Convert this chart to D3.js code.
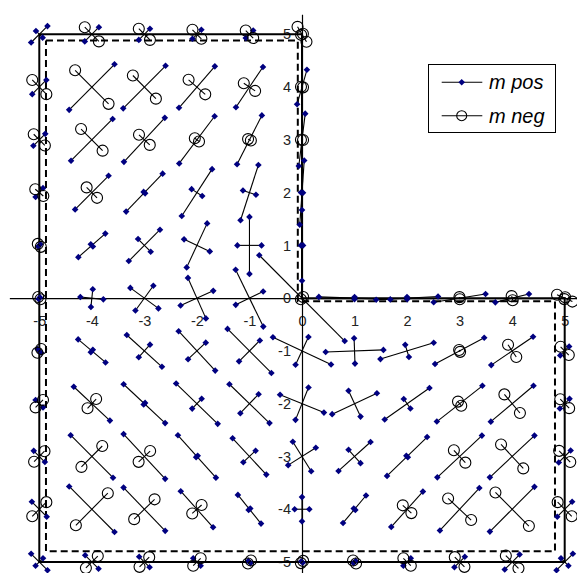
<!DOCTYPE html>
<html><head><meta charset="utf-8">
<script src="https://cdn.jsdelivr.net/npm/d3@7"></script>
<style>body{margin:0;background:#fff} svg{display:block}</style>
</head><body>
<svg id="c" width="577" height="573"></svg>
<script>
// grid points (x, y), principal direction (deg), half-length of the two perpendicular moments (sign: + = m pos, - = m neg)
const ptX = [
 -5,-4,-3,-2,-1,0,
 -5,-4,-3,-2,-1,0,
 -5,-4,-3,-2,-1,0,
 -5,-4,-3,-2,-1,0,
 -5,-4,-3,-2,-1,0,
 -5,-4,-3,-2,-1,0,1,2,3,4,5,
 -5,-4,-3,-2,-1,0,1,2,3,4,5,
 -5,-4,-3,-2,-1,0,1,2,3,4,5,
 -5,-4,-3,-2,-1,0,1,2,3,4,5,
 -5,-4,-3,-2,-1,0,1,2,3,4,5,
 -5,-4,-3,-2,-1,0,1,2,3,4,5];
const ptY = [
 5,5,5,5,5,5,
 4,4,4,4,4,4,
 3,3,3,3,3,3,
 2,2,2,2,2,2,
 1,1,1,1,1,1,
 0,0,0,0,0,0,0,0,0,0,0,
 -1,-1,-1,-1,-1,-1,-1,-1,-1,-1,-1,
 -2,-2,-2,-2,-2,-2,-2,-2,-2,-2,-2,
 -3,-3,-3,-3,-3,-3,-3,-3,-3,-3,-3,
 -4,-4,-4,-4,-4,-4,-4,-4,-4,-4,-4,
 -5,-5,-5,-5,-5,-5,-5,-5,-5,-5,-5];
const theta = [
 45,45,45,45,45,-59,
 45,45,45,49,56,74,
 45,45,47,53,63,83,
 50,45,46,57,72,86,
 45,41,45,65,90,90,
 45,-6,-36,24,26,-45,-2,3,9,14,-24,
 -45,-40,-42,-47,-45,-25,2,17,28,34,45,
 -45,-43,-43,-44,-44,-22,25,35,38,40,45,
 -45,-45,-47,-48,-47,-58,42,44,43,43,45,
 -45,-45,-46,-48,-51,90,50,48,47,45,45,
 -45,-45,-45,-45,-45,-45,45,45,45,45,45];
const mA = [
 0.22,0.19,0.15,0.12,0.10,-0.165,
 0.19,0.61,0.57,0.52,0.46,0.34,
 0.16,0.56,0.57,0.56,0.52,0.50,
 0.11,0.45,0.50,0.53,0.55,0.61,
 0.03,0.34,0.42,0.46,0.54,0.67,
 0.02,0.22,0.33,0.34,0.29,1.15,0.68,0.59,0.50,0.33,-0.16,
 0.05,0.34,0.45,0.51,0.59,0.61,0.55,0.53,0.53,0.48,0.12,
 0.10,0.47,0.54,0.55,0.53,0.45,0.47,0.52,0.55,0.53,0.13,
 0.15,0.57,0.58,0.54,0.47,0.33,0.41,0.53,0.58,0.58,0.16,
 0.20,0.61,0.57,0.46,0.35,0.23,0.34,0.45,0.55,0.60,0.20,
 0.22,0.18,0.14,0.10,0.03,0.02,0.03,0.10,0.14,0.20,0.22];
const mB = [
 0.09,-0.19,-0.15,-0.12,-0.10,-0.02,
 -0.19,-0.45,-0.31,-0.21,-0.13,-0.02,
 -0.15,-0.29,-0.14,-0.05,-0.03,-0.02,
 -0.10,-0.14,0.02,0.12,0.13,0.02,
 -0.04,0.03,0.17,0.27,0.23,0.02,
 -0.03,0.17,0.29,0.42,0.60,-0.03,0.02,0.02,-0.02,-0.04,-0.02,
 -0.05,0.03,0.16,0.23,0.28,0.29,0.24,0.12,-0.02,-0.14,-0.11,
 -0.10,-0.12,0.02,0.13,0.25,0.33,0.27,0.11,-0.05,-0.23,-0.12,
 -0.14,-0.28,-0.15,0.02,0.16,0.31,0.17,0.02,-0.16,-0.31,-0.15,
 -0.19,-0.43,-0.27,-0.12,0.02,0.14,0.02,-0.11,-0.30,-0.45,-0.19,
 0.10,-0.16,-0.13,-0.10,-0.04,-0.03,-0.04,-0.10,-0.13,-0.17,0.10];

const xTicks = [-5,-4,-3,-2,-1,0,1,2,3,4,5];
const yTicks = [-5,-4,-3,-2,-1,0,1,2,3,4,5];
const seriesNames = ["m pos","m neg"];
const outerX = [-5,0,0,5,5,-5,-5];
const outerY = [5,5,0,0,-5,-5,5];
const innerX = [-4.873,-0.08,-0.08,4.815,4.815,-4.873,-4.873];
const innerY = [4.883,4.883,-0.06,-0.06,-4.795,-4.795,4.883];

const svg = d3.select("#c");
const x = d3.scaleLinear().domain([-5,5]).range([39.3,564.7]);
const y = d3.scaleLinear().domain([-5,5]).range([562,34.3]);
const FONT = "'Liberation Sans', Arial, sans-serif";

// axes
const xAx = d3.scaleLinear().domain([-5.57,5.6]).range([x(-5.57),x(5.6)]);
const yAx = d3.scaleLinear().domain([-5.7,5.38]).range([y(-5.7),y(5.38)]);
const gx = svg.append("g").attr("transform",`translate(0,${y(0)})`)
  .call(d3.axisBottom(xAx).tickValues(xTicks).tickSize(0).tickSizeOuter(0).tickPadding(18).tickFormat(d=>String(d)));
const gy = svg.append("g").attr("transform",`translate(${x(0)},0)`)
  .call(d3.axisLeft(yAx).tickValues(yTicks).tickSize(0).tickSizeOuter(0).tickPadding(11).tickFormat(d=>String(d)));
[gx,gy].forEach(g=>{
  g.select(".domain").attr("stroke","#000").attr("stroke-width",1.2);
  g.selectAll("text").attr("font-family",FONT).attr("font-size",14.5).attr("fill","#222");
});

// boundaries
const line = d3.line().x(d=>x(d[0])).y(d=>y(d[1]));
svg.append("path").attr("d",line(outerX.map((v,i)=>[v,outerY[i]])))
  .attr("fill","none").attr("stroke","#000").attr("stroke-width",2);
svg.append("path").attr("d",line(innerX.map((v,i)=>[v,innerY[i]])))
  .attr("fill","none").attr("stroke","#000").attr("stroke-width",2).attr("stroke-dasharray","7,4");

// segments
const segs = [];
ptX.forEach((cx,i)=>{
  [[theta[i],mA[i]],[theta[i]+90,mB[i]]].forEach(([a,m])=>{
    const r = a*Math.PI/180, dx = Math.abs(m)*Math.cos(r), dy = Math.abs(m)*Math.sin(r);
    segs.push({p:[[cx-dx,ptY[i]-dy],[cx+dx,ptY[i]+dy]], pos:m>0});
  });
});
const diamond = "M0,-3.3L3.3,0L0,3.3L-3.3,0Z";
function drawSeries(pos){
  const ss = segs.filter(s=>s.pos===pos);
  const g = svg.append("g");
  g.selectAll("path.l").data(ss).join("path").attr("class","l")
    .attr("d",d=>line(d.p)).attr("stroke","#000").attr("stroke-width",1.1).attr("fill","none");
  const pts = ss.flatMap(s=>s.p);
  if(pos){
    g.selectAll("path.m").data(pts).join("path").attr("class","m").attr("d",diamond)
      .attr("transform",d=>`translate(${x(d[0])},${y(d[1])})`).attr("fill","#000080");
  } else {
    g.selectAll("circle").data(pts).join("circle").attr("cx",d=>x(d[0])).attr("cy",d=>y(d[1]))
      .attr("r",5.5).attr("fill","none").attr("stroke","#000").attr("stroke-width",1.1);
  }
}
drawSeries(true);
drawSeries(false);

// legend
const lg = svg.append("g");
lg.append("rect").attr("x",428.5).attr("y",64.5).attr("width",127).attr("height",68)
  .attr("fill","#fff").attr("stroke","#000").attr("stroke-width",1);
seriesNames.forEach((nm,i)=>{
  const yy = 82.3 + i*33.4;
  lg.append("line").attr("x1",441.7).attr("x2",482.3).attr("y1",yy).attr("y2",yy).attr("stroke","#000").attr("stroke-width",1.1);
  if(i===0) lg.append("path").attr("d",diamond).attr("transform",`translate(461.7,${yy})`).attr("fill","#000080");
  else lg.append("circle").attr("cx",461.7).attr("cy",yy).attr("r",5).attr("fill","none").attr("stroke","#000").attr("stroke-width",1.1);
  lg.append("text").attr("x",489).attr("y",yy+6.8).text(nm)
    .attr("font-family",FONT).attr("font-size",20).attr("font-style","italic").attr("fill","#000");
});
</script>
</body></html>
